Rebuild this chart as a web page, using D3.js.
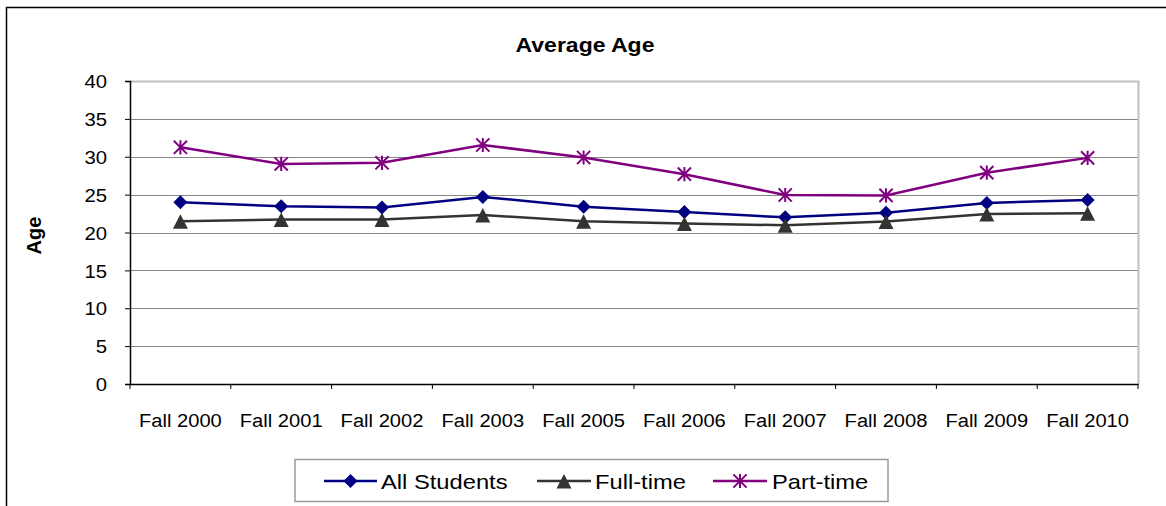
<!DOCTYPE html>
<html><head><meta charset="utf-8">
<script src="https://cdn.jsdelivr.net/npm/d3@7"></script>
<style>body{margin:0;background:#fff;} svg{display:block;font-family:"Liberation Sans",Arial,sans-serif;}</style>
</head><body>
<script>
const categories = ["Fall 2000","Fall 2001","Fall 2002","Fall 2003","Fall 2005","Fall 2006","Fall 2007","Fall 2008","Fall 2009","Fall 2010"];
const allStudents = [24.0, 23.45, 23.3, 24.7, 23.4, 22.7, 22.0, 22.6, 23.9, 24.3];
const fullTime = [21.5, 21.7, 21.7, 22.3, 21.5, 21.2, 20.95, 21.45, 22.45, 22.55];
const partTime = [31.25, 29.05, 29.2, 31.55, 29.9, 27.7, 24.95, 24.9, 27.9, 29.85];
const yTicks = [0,5,10,15,20,25,30,35,40];
const seriesNames = ["All Students","Full-time","Part-time"];

const W=1166,H=506;
const L=130,R=1138,T=81,B=384;
const svg=d3.select("body").append("svg").attr("width",W).attr("height",H);

// outer border
svg.append("path").attr("d",`M6.5,${H} L6.5,7.5 L${W},7.5`).attr("fill","none").attr("stroke","#000").attr("stroke-width",1.5);

const x=d3.scaleBand().domain(categories).range([L,R]);
const y=d3.scaleLinear().domain([0,40]).range([B,T]);

// gridlines
svg.append("g").selectAll("line").data(yTicks.filter(v=>v>0&&v<40)).join("line")
 .attr("x1",L).attr("x2",R).attr("y1",d=>Math.round(y(d))+0.5).attr("y2",d=>Math.round(y(d))+0.5)
 .attr("stroke","#868686").attr("stroke-width",1);
// plot border top/right
svg.append("path").attr("d",`M${L},${Math.round(y(40))+0.5} L${R+0.5},${Math.round(y(40))+0.5} L${R+0.5},${B}`)
 .attr("fill","none").attr("stroke","#c0c0c0").attr("stroke-width",2);

// y axis
const ya=svg.append("g").attr("transform",`translate(${L},0)`)
 .call(d3.axisLeft(y).tickValues(yTicks).tickSize(5).tickPadding(0));
ya.select(".domain").attr("stroke","#000").attr("stroke-width",1.5);
ya.selectAll(".tick line").attr("stroke","#000");
ya.selectAll(".tick text").attr("font-size",19).attr("fill","#000").attr("font-family","Liberation Sans, Arial")
 .attr("x",0).attr("dy","0.35em").attr("transform","translate(-23,0) scale(1.07,1)");

// x axis
const xa=svg.append("g").attr("transform",`translate(0,${B})`)
 .call(d3.axisBottom(x).tickSize(0).tickPadding(0));
xa.select(".domain").attr("stroke","#000").attr("stroke-width",1.5);
xa.selectAll(".tick text").attr("font-size",19).attr("fill","#000").attr("font-family","Liberation Sans, Arial")
 .attr("y",0).attr("dy",0).attr("transform","translate(0,43) scale(1.06,1)");
const bounds=categories.map(c=>x(c)).concat([x(categories[categories.length-1])+x.bandwidth()]);
xa.selectAll(".btick").data(bounds).join("line").attr("class","btick")
 .attr("x1",d=>d).attr("x2",d=>d).attr("y1",0).attr("y2",5).attr("stroke","#000");

// title
svg.append("text").attr("transform","translate(585,52) scale(1.15,1)").attr("text-anchor","middle")
 .attr("font-weight","bold").attr("font-size",20).text("Average Age");
// y title
svg.append("text").attr("transform","translate(41,235.5) rotate(-90)").attr("text-anchor","middle")
 .attr("font-weight","bold").attr("font-size",20).text("Age");

const cx=c=>x(c)+x.bandwidth()/2;
const colors=["#000080","#333333","#800080"];
const data=[allStudents,fullTime,partTime];

function marker(g,i,px,py){
  if(i===0){
    g.append("path").attr("d",`M${px},${py-7} L${px+7},${py} L${px},${py+7} L${px-7},${py} Z`).attr("fill",colors[0]);
  } else if(i===1){
    g.append("path").attr("d",`M${px},${py-7} L${px+7.5},${py+7.5} L${px-7.5},${py+7.5} Z`).attr("fill",colors[1]);
  } else {
    const s=6.6;
    g.append("path").attr("d",`M${px-s},${py-s} L${px+s},${py+s} M${px-s},${py+s} L${px+s},${py-s} M${px},${py-s-0.5} L${px},${py+s+0.5}`)
     .attr("stroke",colors[2]).attr("stroke-width",2).attr("fill","none");
  }
}

const line=d3.line().x((d,i)=>cx(categories[i])).y(d=>y(d));
data.forEach((arr,i)=>{
  const g=svg.append("g");
  g.append("path").datum(arr).attr("d",line).attr("fill","none").attr("stroke",colors[i]).attr("stroke-width",2.5);
  arr.forEach((v,j)=>marker(g,i,cx(categories[j]),y(v)));
});

// legend
const lg=svg.append("g");
lg.append("rect").attr("x",295).attr("y",459.5).attr("width",593).attr("height",42).attr("fill","#fff").attr("stroke","#9a9a9a").attr("stroke-width",1.5);
const items=[{x1:324,x2:377,tx:381},{x1:537,x2:591,tx:595},{x1:713,x2:767,tx:772}];
items.forEach((it,i)=>{
  const ly=481;
  lg.append("line").attr("x1",it.x1).attr("x2",it.x2).attr("y1",ly).attr("y2",ly).attr("stroke",colors[i]).attr("stroke-width",2.5);
  marker(lg,i,(it.x1+it.x2)/2,ly);
  lg.append("text").attr("transform",`translate(${it.tx},${ly+7.5}) scale(1.13,1)`).attr("font-size",21).text(seriesNames[i]);
});
</script>
</body></html>
